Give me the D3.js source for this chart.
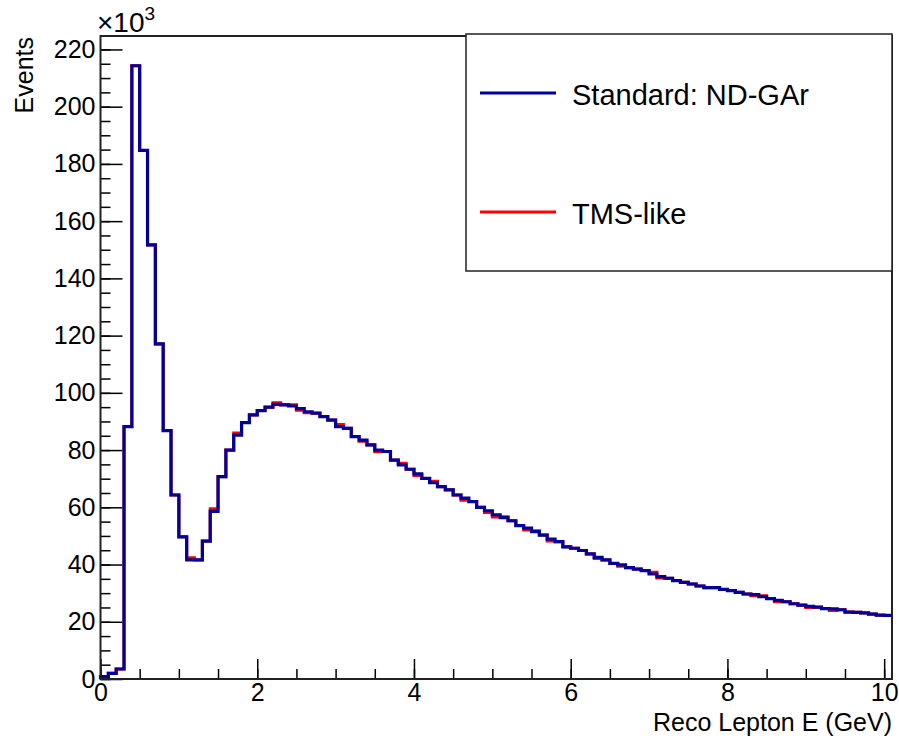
<!DOCTYPE html>
<html>
<head>
<meta charset="utf-8">
<script src="https://cdn.jsdelivr.net/npm/d3@7"></script>
<style>
  body { margin: 0; background: #fff; }
  text { font-family: "Liberation Sans", Arial, sans-serif; fill: #000; }
</style>
</head>
<body>
<svg id="chart" width="899" height="739"></svg>
<script>
// bin width 0.1 GeV, 101 bins from 0 to 10.1, values in units of 10^3 events
const binWidth = 0.1;
const standardGAr = [
  0.8, 2.0, 3.5, 88.2, 214.3, 184.7, 151.7, 117.1, 86.8, 64.3,
  49.7, 41.6, 41.6, 48.2, 58.6, 70.7, 80.0, 85.2, 89.6, 92.3,
  93.8, 95.0, 96.0, 95.8, 95.4, 94.5, 93.4, 92.9, 91.7, 90.5,
  88.2, 87.6, 84.7, 83.5, 81.8, 80.0, 79.5, 76.5, 74.8, 73.3,
  71.7, 70.1, 68.6, 67.2, 66.1, 64.3, 63.2, 62.0, 60.0, 58.8,
  57.4, 56.4, 55.3, 53.6, 52.7, 51.5, 50.3, 48.9, 48.0, 46.2,
  45.7, 44.9, 43.7, 42.5, 41.6, 40.4, 39.9, 38.9, 38.4, 37.9,
  36.7, 35.8, 35.2, 34.4, 33.8, 33.2, 32.5, 31.9, 31.9, 31.3,
  30.9, 30.3, 29.7, 29.5, 28.8, 28.1, 27.5, 27.0, 26.3, 25.8,
  25.4, 25.1, 24.6, 24.5, 24.2, 23.4, 23.3, 23.1, 22.7, 22.3,
  22.2
];
const tmsLike = [
  0.8, 2.0, 3.5, 88.2, 214.3, 184.7, 151.7, 117.1, 86.8, 64.3,
  49.7, 42.4, 41.6, 48.2, 59.5, 70.7, 80.0, 86.0, 89.6, 92.3,
  93.8, 95.0, 96.5, 95.8, 95.8, 93.9, 93.0, 92.9, 91.7, 90.5,
  88.9, 87.6, 84.7, 83.1, 81.8, 79.4, 79.5, 76.5, 75.4, 73.3,
  71.1, 70.1, 69.1, 67.2, 66.1, 64.3, 62.5, 62.0, 60.0, 58.2,
  56.6, 56.7, 55.3, 53.6, 52.1, 51.8, 50.3, 48.2, 48.0, 46.2,
  45.7, 44.9, 43.7, 42.1, 41.6, 40.4, 39.4, 38.9, 38.4, 37.9,
  37.3, 35.3, 35.2, 34.4, 33.8, 33.2, 32.5, 31.9, 31.9, 31.3,
  30.9, 30.3, 29.7, 29.1, 29.1, 28.1, 27.0, 27.0, 26.3, 25.8,
  25.0, 25.1, 24.6, 23.9, 24.2, 23.4, 23.3, 23.1, 22.7, 22.3,
  22.2
];
const xMajorTicks = [0, 2, 4, 6, 8, 10];
const yMajorTicks = [0, 20, 40, 60, 80, 100, 120, 140, 160, 180, 200, 220];
const seriesNames = ["Standard: ND-GAr", "TMS-like"];
const seriesColors = ["#000099", "#ff0000"];

const frame = { left: 100.5, right: 892, top: 36, bottom: 679 };
const svg = d3.select('#chart');

const x = d3.scaleLinear()
  .domain([0, standardGAr.length * binWidth])
  .range([frame.left, frame.right]);
const y = d3.scaleLinear()
  .domain([0, 224.7])
  .range([frame.bottom, frame.top]);

// minor ticks
svg.append('g')
  .attr('transform', `translate(${frame.left},0)`)
  .call(d3.axisLeft(y).tickValues(d3.range(0, 225, 5)).tickSize(-10).tickFormat(''))
  .call(g => g.select('.domain').remove());
svg.append('g')
  .attr('transform', `translate(0,${frame.bottom})`)
  .call(d3.axisBottom(x).tickValues(d3.range(0, 10.01, 0.5)).tickSize(-10).tickFormat(''))
  .call(g => g.select('.domain').remove());

// major ticks and labels
let yAxis = svg.append('g')
  .attr('transform', `translate(${frame.left},0)`)
  .call(d3.axisLeft(y).tickValues(yMajorTicks).tickSize(-22).tickPadding(5).tickFormat(d3.format('d')))
  .call(g => g.select('.domain').remove());
let xAxis = svg.append('g')
  .attr('transform', `translate(0,${frame.bottom})`)
  .call(d3.axisBottom(x).tickValues(xMajorTicks).tickSize(-20).tickPadding(4).tickFormat(d3.format('d')))
  .call(g => g.select('.domain').remove());

svg.selectAll('.tick line').attr('stroke', '#000').attr('stroke-width', 1.5);
svg.selectAll('.tick text').attr('font-size', 25).attr('font-family', '"Liberation Sans", Arial, sans-serif');

// histogram outlines
function stepPoints(vals) {
  let pts = [[0, 0]];
  vals.forEach((v, i) => {
    pts.push([i * binWidth, v]);
    pts.push([(i + 1) * binWidth, v]);
  });
  return pts;
}
const line = d3.line().x(d => x(d[0])).y(d => y(d[1]));

svg.append('path')
  .attr('d', line(stepPoints(tmsLike)))
  .attr('fill', 'none')
  .attr('stroke', seriesColors[1])
  .attr('stroke-width', 3);
svg.append('path')
  .attr('d', line(stepPoints(standardGAr)))
  .attr('fill', 'none')
  .attr('stroke', seriesColors[0])
  .attr('stroke-width', 3.2);

// frame
svg.append('rect')
  .attr('x', frame.left)
  .attr('y', frame.top)
  .attr('width', frame.right - frame.left)
  .attr('height', frame.bottom - frame.top)
  .attr('fill', 'none')
  .attr('stroke', '#222')
  .attr('stroke-width', 2);

// axis titles
svg.append('text')
  .attr('x', frame.right)
  .attr('y', 731)
  .attr('text-anchor', 'end')
  .attr('font-size', 25)
  .text('Reco Lepton E (GeV)');
svg.append('text')
  .attr('transform', 'translate(33,37) rotate(-90)')
  .attr('text-anchor', 'end')
  .attr('font-size', 25)
  .text('Events');

// exponent
let expo = svg.append('text')
  .attr('x', 97)
  .attr('y', 32)
  .attr('font-size', 28);
expo.append('tspan').text('×10');
expo.append('tspan').attr('font-size', 19).attr('dy', -12).text('3');

// legend
let legend = svg.append('g');
legend.append('rect')
  .attr('x', 466)
  .attr('y', 34)
  .attr('width', 426)
  .attr('height', 237)
  .attr('fill', '#fff')
  .attr('stroke', '#222')
  .attr('stroke-width', 1.5);
const legendY = [93, 212];
seriesNames.forEach((name, i) => {
  legend.append('line')
    .attr('x1', 480).attr('x2', 556)
    .attr('y1', legendY[i]).attr('y2', legendY[i])
    .attr('stroke', seriesColors[i])
    .attr('stroke-width', 3);
  legend.append('text')
    .attr('x', 572)
    .attr('y', legendY[i] + 12)
    .attr('font-size', 29)
    .text(name);
});
</script>
</body>
</html>
